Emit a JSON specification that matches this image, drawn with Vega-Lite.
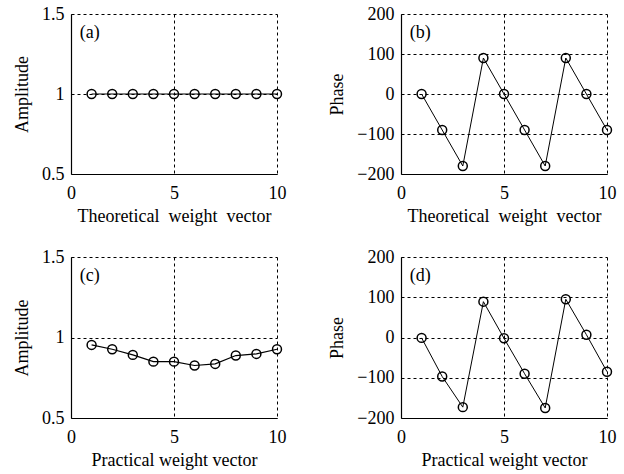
{
  "$schema": "https://vega.github.io/schema/vega-lite/v6.json",
  "background": "white",
  "padding": {"left": 13, "top": 5, "right": 5, "bottom": 5},
  "config": {
    "view": {"stroke": null},
    "font": "Times New Roman, Liberation Serif, serif",
    "axis": {
      "labelFont": "Times New Roman, Liberation Serif, serif", "titleFont": "Times New Roman, Liberation Serif, serif",
      "labelFontSize": 18, "titleFontSize": 18, "titleFontWeight": "normal",
      "labelColor": "black", "titleColor": "black",
      "domainColor": "black", "domainWidth": 1.2,
      "ticks": false, "labelOverlap": false, "labelFlush": false, "tickCount": 10,
      "gridColor": "black", "gridDash": [3, 3], "gridOpacity": 1, "gridWidth": 1,
      "labelPadding": 7, "format": "~r"
    },
    "axisX": {"labelPadding": 10, "titlePadding": 5},
    "axisY": {"titlePadding": 10}
  },
  "datasets": {
    "a": [
      {"n": 1, "value": 1}, {"n": 2, "value": 1}, {"n": 3, "value": 1}, {"n": 4, "value": 1}, {"n": 5, "value": 1},
      {"n": 6, "value": 1}, {"n": 7, "value": 1}, {"n": 8, "value": 1}, {"n": 9, "value": 1}, {"n": 10, "value": 1}
    ],
    "b": [
      {"n": 1, "value": 0}, {"n": 2, "value": -90}, {"n": 3, "value": -180}, {"n": 4, "value": 90}, {"n": 5, "value": 0},
      {"n": 6, "value": -90}, {"n": 7, "value": -180}, {"n": 8, "value": 90}, {"n": 9, "value": 0}, {"n": 10, "value": -90}
    ],
    "c": [
      {"n": 1, "value": 0.954}, {"n": 2, "value": 0.927}, {"n": 3, "value": 0.892}, {"n": 4, "value": 0.85}, {"n": 5, "value": 0.85},
      {"n": 6, "value": 0.826}, {"n": 7, "value": 0.836}, {"n": 8, "value": 0.888}, {"n": 9, "value": 0.898}, {"n": 10, "value": 0.927}
    ],
    "d": [
      {"n": 1, "value": -1}, {"n": 2, "value": -97}, {"n": 3, "value": -173}, {"n": 4, "value": 89}, {"n": 5, "value": -2},
      {"n": 6, "value": -90}, {"n": 7, "value": -175}, {"n": 8, "value": 95}, {"n": 9, "value": 7}, {"n": 10, "value": -85}
    ],
    "la": [{"label": "(a)"}],
    "lb": [{"label": "(b)"}],
    "lc": [{"label": "(c)"}],
    "ld": [{"label": "(d)"}]
  },
  "spacing": 42,
  "hconcat": [
    {
      "spacing": 23,
      "vconcat": [
        {
          "width": 206, "height": 160,
          "layer": [
            {
              "data": {"name": "a"},
              "mark": {"type": "line", "color": "black", "strokeWidth": 1.2},
              "encoding": {
                "x": {"field": "n", "type": "quantitative", "scale": {"domain": [0, 10]}, "axis": {"values": [0, 5, 10], "title": "Theoretical\u00a0 weight\u00a0 vector"}},
                "y": {"field": "value", "type": "quantitative", "scale": {"domain": [0.5, 1.5]}, "axis": {"values": [0.5, 1, 1.5], "title": "Amplitude"}}
              }
            },
            {
              "data": {"name": "a"},
              "mark": {"type": "point", "shape": "circle", "filled": false, "color": "black", "size": 80, "strokeWidth": 1.5, "opacity": 1},
              "encoding": {
                "x": {"field": "n", "type": "quantitative"},
                "y": {"field": "value", "type": "quantitative"}
              }
            },
            {
              "data": {"name": "la"},
              "mark": {"type": "text", "align": "left", "baseline": "middle", "fontSize": 18, "font": "Times New Roman, Liberation Serif, serif", "color": "black"},
              "encoding": {
                "x": {"datum": 0.42, "type": "quantitative"},
                "y": {"datum": 1.38, "type": "quantitative"},
                "text": {"field": "label"}
              }
            }
          ]
        },
        {
          "width": 206, "height": 161,
          "layer": [
            {
              "data": {"name": "c"},
              "mark": {"type": "line", "color": "black", "strokeWidth": 1.2},
              "encoding": {
                "x": {"field": "n", "type": "quantitative", "scale": {"domain": [0, 10]}, "axis": {"values": [0, 5, 10], "title": "Practical weight vector"}},
                "y": {"field": "value", "type": "quantitative", "scale": {"domain": [0.5, 1.5]}, "axis": {"values": [0.5, 1, 1.5], "title": "Amplitude"}}
              }
            },
            {
              "data": {"name": "c"},
              "mark": {"type": "point", "shape": "circle", "filled": false, "color": "black", "size": 80, "strokeWidth": 1.5, "opacity": 1},
              "encoding": {
                "x": {"field": "n", "type": "quantitative"},
                "y": {"field": "value", "type": "quantitative"}
              }
            },
            {
              "data": {"name": "lc"},
              "mark": {"type": "text", "align": "left", "baseline": "middle", "fontSize": 18, "font": "Times New Roman, Liberation Serif, serif", "color": "black"},
              "encoding": {
                "x": {"datum": 0.42, "type": "quantitative"},
                "y": {"datum": 1.38, "type": "quantitative"},
                "text": {"field": "label"}
              }
            }
          ]
        }
      ]
    },
    {
      "spacing": 23,
      "vconcat": [
        {
          "width": 206, "height": 160,
          "layer": [
            {
              "data": {"name": "b"},
              "mark": {"type": "line", "color": "black", "strokeWidth": 1},
              "encoding": {
                "x": {"field": "n", "type": "quantitative", "scale": {"domain": [0, 10]}, "axis": {"values": [0, 5, 10], "title": "Theoretical\u00a0 weight\u00a0 vector"}},
                "y": {"field": "value", "type": "quantitative", "scale": {"domain": [-200, 200]}, "axis": {"values": [-200, -100, 0, 100, 200], "title": "Phase"}}
              }
            },
            {
              "data": {"name": "b"},
              "mark": {"type": "point", "shape": "circle", "filled": false, "color": "black", "size": 80, "strokeWidth": 1.5, "opacity": 1},
              "encoding": {
                "x": {"field": "n", "type": "quantitative"},
                "y": {"field": "value", "type": "quantitative"}
              }
            },
            {
              "data": {"name": "lb"},
              "mark": {"type": "text", "align": "left", "baseline": "middle", "fontSize": 18, "font": "Times New Roman, Liberation Serif, serif", "color": "black"},
              "encoding": {
                "x": {"datum": 0.42, "type": "quantitative"},
                "y": {"datum": 152, "type": "quantitative"},
                "text": {"field": "label"}
              }
            }
          ]
        },
        {
          "width": 206, "height": 161,
          "layer": [
            {
              "data": {"name": "d"},
              "mark": {"type": "line", "color": "black", "strokeWidth": 1},
              "encoding": {
                "x": {"field": "n", "type": "quantitative", "scale": {"domain": [0, 10]}, "axis": {"values": [0, 5, 10], "title": "Practical weight vector"}},
                "y": {"field": "value", "type": "quantitative", "scale": {"domain": [-200, 200]}, "axis": {"values": [-200, -100, 0, 100, 200], "title": "Phase"}}
              }
            },
            {
              "data": {"name": "d"},
              "mark": {"type": "point", "shape": "circle", "filled": false, "color": "black", "size": 80, "strokeWidth": 1.5, "opacity": 1},
              "encoding": {
                "x": {"field": "n", "type": "quantitative"},
                "y": {"field": "value", "type": "quantitative"}
              }
            },
            {
              "data": {"name": "ld"},
              "mark": {"type": "text", "align": "left", "baseline": "middle", "fontSize": 18, "font": "Times New Roman, Liberation Serif, serif", "color": "black"},
              "encoding": {
                "x": {"datum": 0.42, "type": "quantitative"},
                "y": {"datum": 152, "type": "quantitative"},
                "text": {"field": "label"}
              }
            }
          ]
        }
      ]
    }
  ]
}
